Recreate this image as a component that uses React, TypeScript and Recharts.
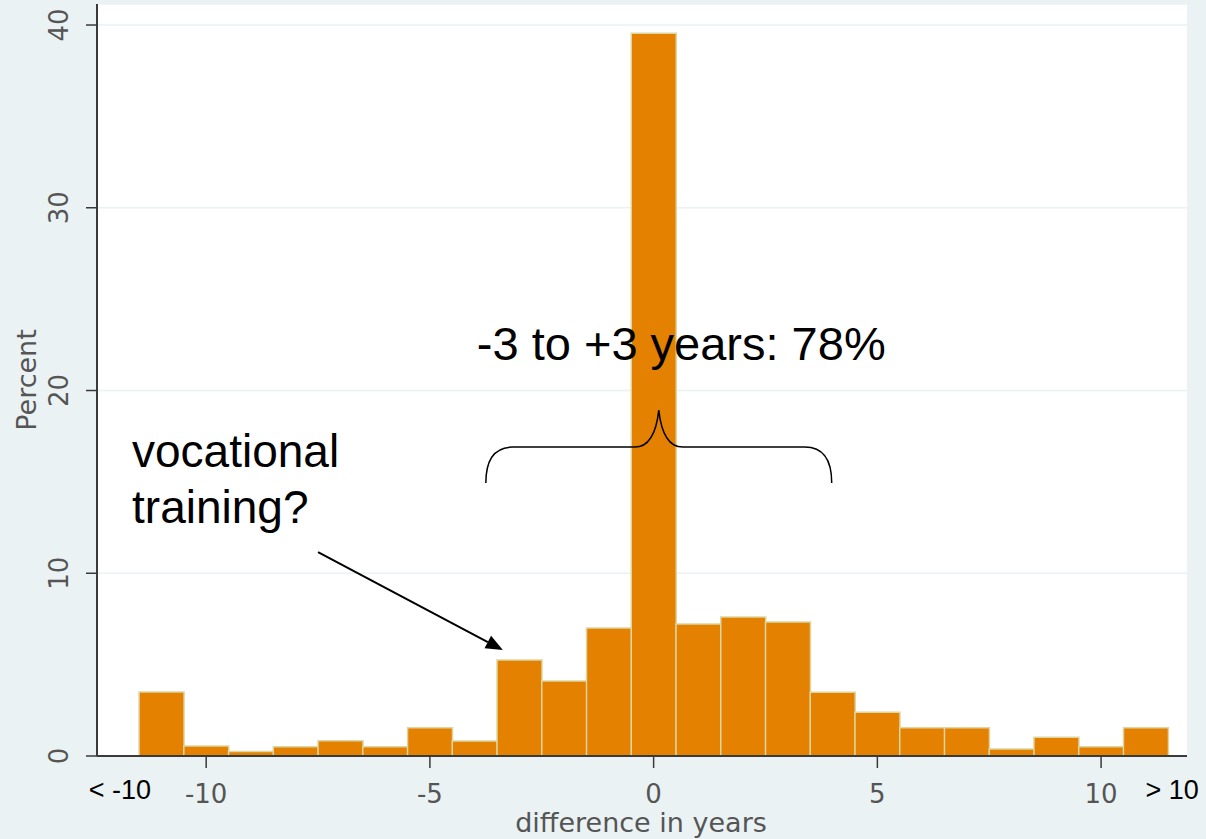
import React from "react";
import { BarChart, Bar, XAxis, YAxis, CartesianGrid } from "recharts";

const binCenters = [-11, -10, -9, -8, -7, -6, -5, -4, -3, -2, -1, 0, 1, 2, 3, 4, 5, 6, 7, 8, 9, 10, 11];
const percents = [3.5, 0.55, 0.25, 0.5, 0.84, 0.5, 1.55, 0.82, 5.25, 4.1, 7.0, 39.55, 7.22, 7.6, 7.33, 3.49, 2.39, 1.55, 1.55, 0.38, 1.02, 0.51, 1.55];
const xTickValues = [-11.93, -10, -5, 0, 5, 10, 11.59];
const xTickLabels = ["< -10", "-10", "-5", "0", "5", "10", "> 10"];
const yTickValues = [0, 10, 20, 30, 40];

const data = binCenters.map((x, i) => ({ x, pct: percents[i] }));

const W = 1206;
const H = 839;
const MARGIN = { top: 4, right: 19, bottom: 83, left: 97 };
const X_DOMAIN: [number, number] = [-12.44, 11.92];
const Y_DOMAIN: [number, number] = [0, 41.15];
const Y_AXIS_W = 60;
const X_AXIS_H = 1;

const BG = "#EAF2F3";
const AXIS = "#3a3a3a";
const LABEL_FONT = "'DejaVu Sans', sans-serif";
const ANNOT_FONT = "'Liberation Sans', Arial, sans-serif";

// same linear mapping the chart uses, for the overlay annotations
const plotL = MARGIN.left;
const plotR = W - MARGIN.right;
const plotT = MARGIN.top;
const plotB = H - MARGIN.bottom;
const sx = (v: number) => plotL + ((v - X_DOMAIN[0]) / (X_DOMAIN[1] - X_DOMAIN[0])) * (plotR - plotL);
const sy = (v: number) => plotB - ((v - Y_DOMAIN[0]) / (Y_DOMAIN[1] - Y_DOMAIN[0])) * (plotB - plotT);

const XTick = (props: any) => {
  const { x, y, payload } = props;
  const label = xTickLabels[xTickValues.indexOf(payload.value)] ?? String(payload.value);
  const extreme = label.startsWith("<") || label.startsWith(">");
  if (extreme) {
    return (
      <text x={x} y={y + 43} textAnchor="middle" fontFamily={ANNOT_FONT} fontSize={27} fill="#000">
        {label}
      </text>
    );
  }
  return (
    <g>
      <line x1={x} y1={y} x2={x} y2={y + 12} stroke={AXIS} strokeWidth={1.5} />
      <text x={x} y={y + 47} textAnchor="middle" fontFamily={LABEL_FONT} fontSize={26} fill="#555">
        {label}
      </text>
    </g>
  );
};

const YTick = (props: any) => {
  const { x, y, payload } = props;
  const bx = x - 18;
  return (
    <text
      x={bx}
      y={y}
      transform={`rotate(-90, ${bx}, ${y})`}
      textAnchor="middle"
      fontFamily={LABEL_FONT}
      fontSize={26}
      fill="#555"
    >
      {payload.value}
    </text>
  );
};

const Brace = ({ x1, x2, yBottom, yTop }: { x1: number; x2: number; yBottom: number; yTop: number }) => {
  const a = sx(x1);
  const b = sx(x2);
  const yb = sy(yBottom);
  const yt = sy(yTop);
  const yh = yt + (yb - yt) * 0.507;
  const mid = (a + b) / 2;
  const r = 27;
  const d = [
    `M ${a} ${yb}`,
    `Q ${a} ${yh} ${a + r} ${yh}`,
    `L ${mid - 24} ${yh}`,
    `Q ${mid - 4} ${yh} ${mid} ${yt}`,
    `Q ${mid + 4} ${yh} ${mid + 24} ${yh}`,
    `L ${b - r} ${yh}`,
    `Q ${b} ${yh} ${b} ${yb}`,
  ].join(" ");
  return (
    <g>
      <path d={d} fill="none" stroke="#000" strokeWidth={1.5} />
      <text x={a - 9} y={yt - 50} fontFamily={ANNOT_FONT} fontSize={47} fill="#000">
        -3 to +3 years: 78%
      </text>
    </g>
  );
};

const Arrow = ({ fx, fy, tx, ty }: { fx: number; fy: number; tx: number; ty: number }) => {
  const x0 = sx(fx);
  const y0 = sy(fy);
  const ex = sx(tx);
  const ey = sy(ty);
  const ang = Math.atan2(ey - y0, ex - x0);
  const hl = 17;
  const hw = 7;
  const bx = ex - hl * Math.cos(ang);
  const by = ey - hl * Math.sin(ang);
  const px = -Math.sin(ang) * hw;
  const py = Math.cos(ang) * hw;
  return (
    <g>
      <line x1={x0} y1={y0} x2={bx} y2={by} stroke="#000" strokeWidth={2} />
      <polygon points={`${ex},${ey} ${bx + px},${by + py} ${bx - px},${by - py}`} fill="#000" />
      <text x={x0 - 186} y={y0 - 85} fontFamily={ANNOT_FONT} fontSize={46} fill="#000">
        vocational
      </text>
      <text x={x0 - 186} y={y0 - 29} fontFamily={ANNOT_FONT} fontSize={46} fill="#000">
        training?
      </text>
    </g>
  );
};

export default function App() {
  return (
    <div style={{ position: "absolute", left: 0, top: 0, width: W, height: H, background: BG }}>
      <BarChart
        width={W}
        height={H}
        data={data}
        margin={{
          top: MARGIN.top,
          right: MARGIN.right,
          bottom: MARGIN.bottom - X_AXIS_H,
          left: MARGIN.left - Y_AXIS_W,
        }}
        barCategoryGap={0}
        barGap={0}
      >
        <CartesianGrid horizontal vertical={false} stroke={BG} strokeWidth={1.5} fill="#ffffff" />
        <XAxis
          dataKey="x"
          type="number"
          domain={X_DOMAIN}
          ticks={xTickValues}
          interval={0}
          height={X_AXIS_H}
          tickSize={0}
          tickMargin={0}
          tickLine={false}
          tick={<XTick />}
          axisLine={{ stroke: AXIS, strokeWidth: 2 }}
          allowDataOverflow
        />
        <YAxis
          type="number"
          domain={Y_DOMAIN}
          ticks={yTickValues}
          interval={0}
          width={Y_AXIS_W}
          tickSize={11}
          tickMargin={0}
          tickLine={{ stroke: AXIS, strokeWidth: 1.5 }}
          axisLine={{ stroke: AXIS, strokeWidth: 2 }}
          tick={<YTick />}
          allowDataOverflow
        />
        <Bar dataKey="pct" fill="#E48100" stroke="#DCD6A0" strokeWidth={1.5} isAnimationActive={false} />
      </BarChart>
      <svg style={{ position: "absolute", left: 0, top: 0, pointerEvents: "none" }} width={W} height={H}>
        <Brace x1={-3.75} x2={3.98} yBottom={14.94} yTop={18.93} />
        <Arrow fx={-7.5} fy={11.16} tx={-3.37} ty={5.8} />
        <text x={36} y={380} transform="rotate(-90, 36, 380)" textAnchor="middle" fontFamily={LABEL_FONT} fontSize={27} fill="#555">
          Percent
        </text>
        <text x={641} y={832} textAnchor="middle" fontFamily={LABEL_FONT} fontSize={27} fill="#555">
          difference in years
        </text>
      </svg>
    </div>
  );
}
